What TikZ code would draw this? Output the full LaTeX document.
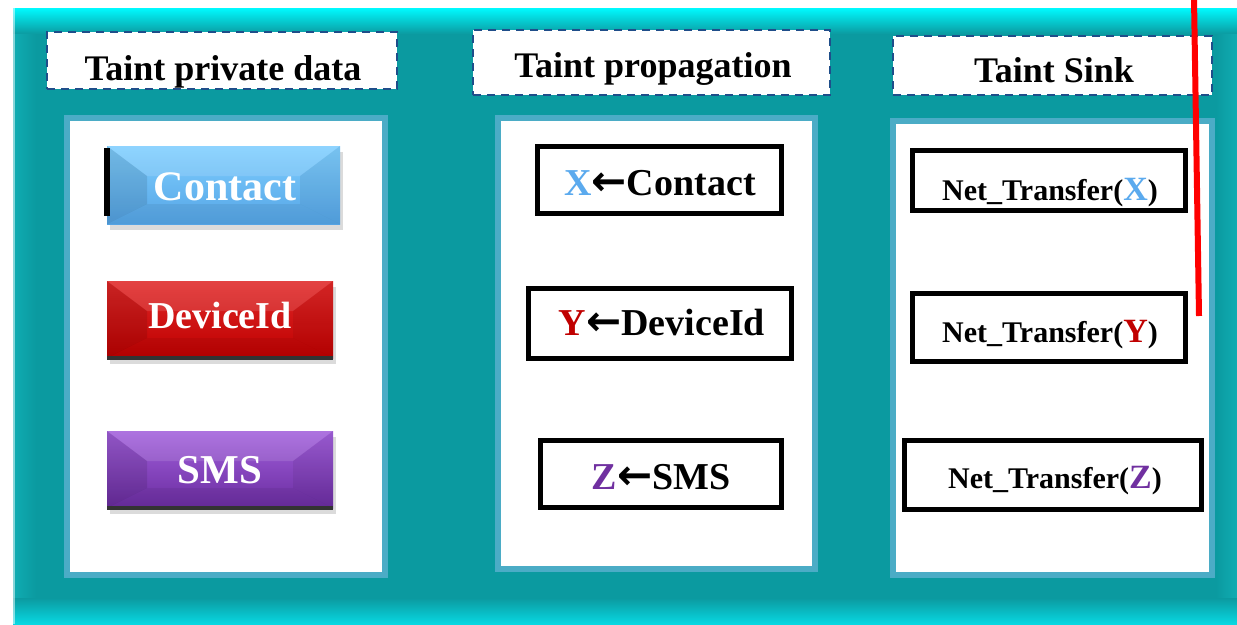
\documentclass[tikz,border=0pt]{standalone}
\usepackage{fontspec}
\setmainfont{Liberation Serif}
\newfontfamily\symfont{DejaVu Sans}
\definecolor{tealbase}{HTML}{0B9AA0}
\definecolor{tealcyan}{HTML}{00FAFF}
\definecolor{tealbot}{HTML}{08D8E2}
\definecolor{tealside}{HTML}{10ACB2}
\definecolor{panelborder}{HTML}{4BACC6}
\definecolor{dashblue}{HTML}{1F4E8A}
\definecolor{xblue}{HTML}{5BAAEE}
\definecolor{yred}{HTML}{C00000}
\definecolor{zpurple}{HTML}{7030A0}
\definecolor{cbase}{HTML}{55A5E6}
\definecolor{clight}{HTML}{80CFFF}
\definecolor{dbase}{HTML}{BE0000}
\definecolor{dlight}{HTML}{E02828}
\definecolor{sbase}{HTML}{6A2CA0}
\definecolor{slight}{HTML}{A260DC}
\newcommand\bevelbtn[7]{%
  % #1 name, #2 x1, #3 y1, #4 x2, #5 y2, #6 base, #7 light
  \fill[black!40,opacity=0.35] (#2+3,#3+6) rectangle (#4+3,#5+6);
  \shade[top color=#7, bottom color=#6] (#2,#3) rectangle (#4,#5);
  \fill[white,opacity=0.12] (#2,#3) -- (#4,#3) -- (#4-40,#3+30) -- (#2+40,#3+30) -- cycle;
  \fill[black,opacity=0.10] (#2,#3) -- (#2+40,#3+30) -- (#2+40,#5-20) -- (#2,#5) -- cycle;
  \fill[black,opacity=0.06] (#4,#3) -- (#4-40,#3+30) -- (#4-40,#5-20) -- (#4,#5) -- cycle;
  \fill[black,opacity=0.06] (#2,#5) -- (#2+40,#5-20) -- (#4-40,#5-20) -- (#4,#5) -- cycle;
  \node[inner sep=0pt, minimum width=#4-#2, minimum height=#5-#3] (#1) at ({(#2+#4)/2},{(#3+#5)/2}) {};
}
\tikzset{
  header/.style={draw=dashblue, fill=white, line width=2pt, dash pattern=on 8pt off 6pt, inner sep=0pt},
  panel/.style={draw=panelborder, fill=white, line width=6pt, inner sep=0pt},
  codebox/.style={draw=black, fill=white, line width=5pt, inner sep=0pt},
  htext/.style={anchor=base, inner sep=0pt, font=\fontsize{36}{40}\selectfont\bfseries},
  btext/.style={anchor=base, inner sep=0pt, text=white, font=\fontsize{40}{44}\selectfont\bfseries},
  ptext/.style={anchor=base, inner sep=0pt, font=\fontsize{38}{42}\selectfont\bfseries},
  stext/.style={anchor=base, inner sep=0pt, font=\fontsize{30}{34}\selectfont\bfseries},
}
\newcommand\larr{{\symfont\bfseries\fontsize{42}{44}\selectfont ←}}
\begin{document}
\begin{tikzpicture}[x=1pt,y=-1pt]
\useasboundingbox (0,0) rectangle (1237,624);
\fill[white] (0,0) rectangle (1237,624);
% outer frame
\fill[tealbase] (13,8) rectangle (1237,624);
\shade[top color=tealcyan, bottom color=tealbase] (13,8) rectangle (1237,34);
\shade[left color=tealside, right color=tealbase] (13,34) rectangle (36,598);
\shade[left color=tealbase, right color=tealside] (1216,34) rectangle (1237,598);
\shade[top color=tealbase, bottom color=tealbot] (13,598) rectangle (1237,624);
\fill[white,opacity=0.5] (13,8) rectangle (15,624);
% headers
\node[header, minimum width=350pt, minimum height=57pt] (h1) at (222,60.5) {};
\node[header, minimum width=357pt, minimum height=65pt] (h2) at (651.5,62.5) {};
\node[header, minimum width=319pt, minimum height=59pt] (h3) at (1052.5,65.5) {};
\node[htext] (h1t) at (223,80) {Taint private data};
\node[htext] (h2t) at (653,77) {Taint propagation};
\node[htext] (h3t) at (1054,82) {Taint Sink};
% panels
\node[panel, minimum width=318pt, minimum height=457pt] (p1) at (226,346.5) {};
\node[panel, minimum width=317pt, minimum height=451pt] (p2) at (656.5,343.5) {};
\node[panel, minimum width=319pt, minimum height=454pt] (p3) at (1052.5,348) {};
% buttons
\bevelbtn{b1}{107}{146}{340}{224}{cbase}{clight}
\fill[black] (104,148) rectangle (110,216);
\bevelbtn{b2}{107}{281}{333}{358}{dbase}{dlight}
\fill[black!80] (107,356) rectangle (333,360);
\bevelbtn{b3}{107}{431}{333}{508}{sbase}{slight}
\fill[black!80] (107,506) rectangle (333,510);
\node[btext, font=\fontsize{42}{46}\selectfont\bfseries] (b1t) at (225,200) {Contact};
\node[btext, font=\fontsize{38}{42}\selectfont\bfseries] (b2t) at (220,328) {DeviceId};
\node[btext, font=\fontsize{41}{45}\selectfont\bfseries] (b3t) at (220,483) {SMS};
% propagation boxes
\node[codebox, minimum width=244pt, minimum height=67pt] (c1) at (659,179.5) {};
\node[codebox, minimum width=263pt, minimum height=70pt] (c2) at (659.5,323) {};
\node[codebox, minimum width=241pt, minimum height=67pt] (c3) at (660.5,473.5) {};
\node[ptext] (c1t) at (660,195) {\textcolor{xblue}{X}\larr Contact};
\node[ptext] (c2t) at (662,335) {\textcolor{yred}{Y}\larr DeviceId};
\node[ptext] (c3t) at (661,489) {\textcolor{zpurple}{Z}\larr SMS};
% sink boxes
\node[codebox, minimum width=273pt, minimum height=60pt] (s1) at (1048.5,180) {};
\node[codebox, minimum width=273pt, minimum height=68pt] (s2) at (1048.5,327) {};
\node[codebox, minimum width=297pt, minimum height=69pt] (s3) at (1052.5,474.5) {};
\node[stext] (s1t) at (1050,200) {Net\_Transfer(\textcolor{xblue}{\fontsize{34}{38}\selectfont X})};
\node[stext] (s2t) at (1050,342) {Net\_Transfer(\textcolor{yred}{\fontsize{34}{38}\selectfont Y})};
\node[stext] (s3t) at (1055,488) {Net\_Transfer(\textcolor{zpurple}{\fontsize{34}{38}\selectfont Z})};
% red line
\coordinate (r1) at (1194,-2);
\coordinate (r2) at (1199,316);
\draw[red, line width=6pt] (r1) -- (r2);
\end{tikzpicture}
\end{document}
